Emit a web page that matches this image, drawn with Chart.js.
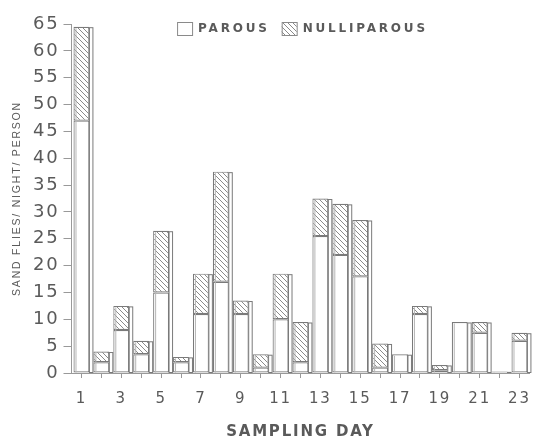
<!DOCTYPE html>
<html>
<head>
<meta charset="utf-8">
<script src="https://cdn.jsdelivr.net/npm/chart.js@4"></script>
<style>
  html, body { margin: 0; padding: 0; background: #fff; overflow: hidden; }
  #wrap { width: 541px; height: 437px; }
</style>
</head>
<body>
<div id="wrap"><canvas id="chart"></canvas></div>
<script>
const days = ["1","2","3","4","5","6","7","8","9","10","11","12",
              "13","14","15","16","17","18","19","20","21","22","23"];
const parous      = [47, 2, 8, 3.5, 15, 2, 11, 17, 11, 1, 10, 2,
                     25.5, 22, 18, 1, 3.5, 11, 0.5, 9.5, 7.5, 0.3, 6];
const nulliparous = [17.5, 2, 4.5, 2.5, 11.5, 1, 7.5, 20.5, 2.5, 2.5, 8.5, 7.5,
                     7, 9.5, 10.5, 4.5, 0, 1.5, 1, 0, 2, 0, 1.5];
const yTicks = [0, 5, 10, 15, 20, 25, 30, 35, 40, 45, 50, 55, 60, 65];

const GREY = "#5a5a5a";

// diagonal hatching "\\\"
function hatch() {
    const c = document.createElement("canvas");
    c.width = 5; c.height = 5;
    const g = c.getContext("2d");
    g.fillStyle = "#fff";
    g.fillRect(0, 0, 5, 5);
    g.strokeStyle = "#8a8a8a";
    g.lineWidth = 1;
    g.beginPath();
    g.moveTo(-1, -1); g.lineTo(6, 6);
    g.moveTo(-1, 4); g.lineTo(1, 6);
    g.moveTo(4, -1); g.lineTo(6, 1);
    g.stroke();
    return g.createPattern(c, "repeat");
}
const hatchFill = hatch();

// spaced-out lettering like the printed figure
const spacing = {
    id: "spacing",
    beforeDraw(chart) { chart.ctx.letterSpacing = "1.8px"; },
};

// side face of each bar, for the 3D look
const sideFace = {
    id: "sideFace",
    afterDatasetsDraw(chart) {
        const ctx = chart.ctx;
        const m0 = chart.getDatasetMeta(0).data;
        const m1 = chart.getDatasetMeta(1).data;
        ctx.save();
        ctx.lineWidth = 1;
        m0.forEach((bar, i) => {
            const top = nulliparous[i] > 0 ? m1[i].y : bar.y;
            const base = bar.base;
            const right = bar.x + bar.width / 2;
            const d = 3.5;
            ctx.fillStyle = "#fff";
            ctx.strokeStyle = "#7a7a7a";
            ctx.fillRect(right, top + 1, d, base - top - 1);
            ctx.strokeRect(right, top + 1, d, base - top - 1);
            ctx.beginPath();
            ctx.moveTo(bar.x - bar.width / 2 + 2.5, base);
            ctx.lineTo(bar.x - bar.width / 2 + 2.5, top + 1.5);
            ctx.strokeStyle = "#b5b5b5";
            ctx.stroke();
        });
        ctx.restore();
    }
};

// legend across the top of the plot
const topLegend = {
    id: "topLegend",
    afterDraw(chart) {
        const ctx = chart.ctx;
        const items = chart.data.datasets.map(ds => ({ text: ds.label, fill: ds.backgroundColor }));
        ctx.save();
        ctx.letterSpacing = "2.8px";
        ctx.font = "bold 12px 'DejaVu Sans'";
        ctx.textBaseline = "middle";
        const box = 15, gapBox = 6, gapItem = 12;
        const widths = items.map(it => box + gapBox + ctx.measureText(it.text).width);
        const total = widths.reduce((a, b) => a + b, 0) + gapItem * (items.length - 1);
        const ca = chart.chartArea;
        let x = (ca.left + ca.right) / 2 - total / 2 + 2;
        const y = 29;
        items.forEach((it, i) => {
            ctx.fillStyle = it.fill;
            ctx.fillRect(x, y - 7, box, 13);
            ctx.strokeStyle = "#8a8a8a";
            ctx.lineWidth = 1;
            ctx.strokeRect(x + 0.5, y - 6.5, box, 13);
            ctx.fillStyle = GREY;
            ctx.fillText(it.text, x + box + gapBox, y);
            x += widths[i] + gapItem;
        });
        ctx.restore();
    }
};

new Chart(document.getElementById("chart"), {
    type: "bar",
    data: {
        labels: days,
        datasets: [
            {
                label: "PAROUS",
                data: parous,
                backgroundColor: "#fff",
                borderColor: "#7a7a7a",
                borderWidth: 1.2,
                borderSkipped: false,
            },
            {
                label: "NULLIPAROUS",
                data: nulliparous,
                backgroundColor: hatchFill,
                borderColor: "#7a7a7a",
                borderWidth: 1.2,
                borderSkipped: false,
            },
        ],
    },
    options: {
        responsive: true,
        maintainAspectRatio: false,
        animation: false,
        barPercentage: 0.8,
        categoryPercentage: 1,
        layout: { padding: { top: 24, right: 0, left: 0, bottom: 0 } },
        plugins: {
            legend: { display: false },
            tooltip: { enabled: false },
        },
        scales: {
            x: {
                stacked: true,
                offset: true,
                grid: { display: true, drawOnChartArea: false, offset: false,
                        tickLength: 5, color: "#999" },
                border: { display: true, color: "#999", width: 1 },
                ticks: {
                    autoSkip: false,
                    maxRotation: 0,
                    padding: 12,
                    color: GREY,
                    font: { family: "DejaVu Sans", size: 15 },
                    callback: (v, i) => (i % 2 === 0 ? days[i] : ""),
                },
                title: {
                    display: true,
                    text: "SAMPLING DAY",
                    color: GREY,
                    font: { family: "DejaVu Sans", size: 15, weight: "bold", lineHeight: 0.7 },
                    padding: { top: 4, bottom: 0 },
                },
                afterFit: s => { s.height = 64; },
            },
            y: {
                stacked: true,
                min: 0,
                max: 65,
                afterBuildTicks: s => { s.ticks = yTicks.map(v => ({ value: v })); },
                grid: { display: true, drawOnChartArea: false, tickLength: 8, color: "#999" },
                border: { display: true, color: "#999", width: 1 },
                ticks: {
                    padding: 4,
                    color: GREY,
                    font: { family: "DejaVu Sans", size: 18 },
                },
                title: {
                    display: true,
                    text: "SAND FLIES/ NIGHT/ PERSON",
                    color: GREY,
                    font: { family: "Liberation Sans", size: 10.5, lineHeight: 3.2 },
                    padding: { top: 0, bottom: 0 },
                },
                afterFit: s => { s.width = 71.5; },
            },
        },
    },
    plugins: [spacing, sideFace, topLegend],
});
</script>
</body>
</html>
